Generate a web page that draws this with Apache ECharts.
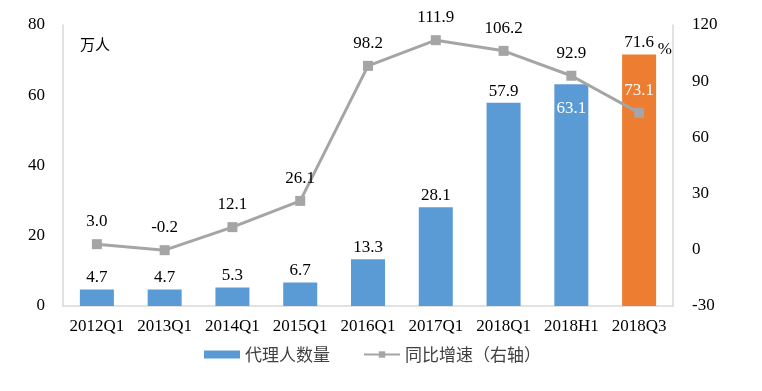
<!DOCTYPE html>
<html>
<head>
<meta charset="utf-8">
<script src="https://cdn.jsdelivr.net/npm/echarts@6/dist/echarts.min.js"></script>
<style>html,body{margin:0;padding:0;background:#fff;}#c{width:762px;height:391px;}</style>
</head>
<body>
<div id="c"></div>
<script>
const categories = ['2012Q1','2013Q1','2014Q1','2015Q1','2016Q1','2017Q1','2018Q1','2018H1','2018Q3'];
const agents = [4.7, 4.7, 5.3, 6.7, 13.3, 28.1, 57.9, 63.1, 71.6];
const growth = [3.0, -0.2, 12.1, 26.1, 98.2, 111.9, 106.2, 92.9, 73.1];

const serif = '"Liberation Serif", "Times New Roman", serif';
const cjk = '"Noto Sans CJK SC", sans-serif';
const blue = '#5B9BD5', orange = '#ED7D31', gray = '#A5A5A5';

const barData = agents.map((v, i) => {
  const d = { value: v };
  if (i === categories.length - 1) d.itemStyle = { color: orange };
  if (categories[i] === '2018H1') d.label = { position: 'insideTop', color: '#fff', distance: 16 };
  return d;
});
const lineData = growth.map((v, i) => {
  const d = { value: v };
  if (i === categories.length - 1) d.label = { color: '#fff' };
  return d;
});

const chart = echarts.init(document.getElementById('c'), null, { renderer: 'canvas' });
chart.setOption({
  animation: false,
  grid: { left: 63, right: 89, top: 25, bottom: 85, containLabel: false },
  legend: {
    bottom: 23, left: 199,
    itemWidth: 36, itemHeight: 8, itemGap: 33,
    textStyle: { fontFamily: cjk, fontSize: 17, color: '#404040' },
    data: [
      { name: '代理人数量', icon: 'rect', itemStyle: { color: blue } },
      { name: '同比增速（右轴）' }
    ]
  },
  xAxis: {
    type: 'category', data: categories,
    axisLine: { lineStyle: { color: '#D9D9D9', width: 1.5 } },
    axisTick: { show: false },
    axisLabel: { fontFamily: serif, fontSize: 17, color: '#000', margin: 12, interval: 0 }
  },
  yAxis: [
    {
      type: 'value', min: 0, max: 80, interval: 20,
      name: '万人', nameLocation: 'end', nameGap: -27,
      nameTextStyle: { fontFamily: cjk, fontSize: 15, color: '#000', align: 'left', padding: [0, 0, 0, 17] },
      axisLine: { show: true, lineStyle: { color: '#D9D9D9', width: 1.5 } },
      axisTick: { show: false }, splitLine: { show: false },
      axisLabel: { fontFamily: serif, fontSize: 17, color: '#000', margin: 18 }
    },
    {
      type: 'value', min: -30, max: 120, interval: 30,
      name: '%', nameLocation: 'end', nameGap: -33,
      nameTextStyle: { fontFamily: serif, fontSize: 17, color: '#000', align: 'right', padding: [0, 1, 0, 0] },
      axisLine: { show: true, lineStyle: { color: '#D9D9D9', width: 1.5 } },
      axisTick: { show: false }, splitLine: { show: false },
      axisLabel: { fontFamily: serif, fontSize: 17, color: '#000', margin: 19 }
    }
  ],
  series: [
    {
      name: '代理人数量', type: 'bar', yAxisIndex: 0, barWidth: 34,
      itemStyle: { color: blue },
      data: barData,
      label: { show: true, position: 'top', distance: 3, fontFamily: serif, fontSize: 17, color: '#000',
        formatter: p => p.value.toFixed(1) }
    },
    {
      name: '同比增速（右轴）', type: 'line', yAxisIndex: 1,
      symbol: 'rect', symbolSize: 10,
      lineStyle: { color: gray, width: 3 },
      itemStyle: { color: gray },
      data: lineData,
      label: { show: true, position: 'top', distance: 9, fontFamily: serif, fontSize: 17, color: '#000',
        formatter: p => p.value.toFixed(1) },
      z: 3
    }
  ]
});
</script>
</body>
</html>
